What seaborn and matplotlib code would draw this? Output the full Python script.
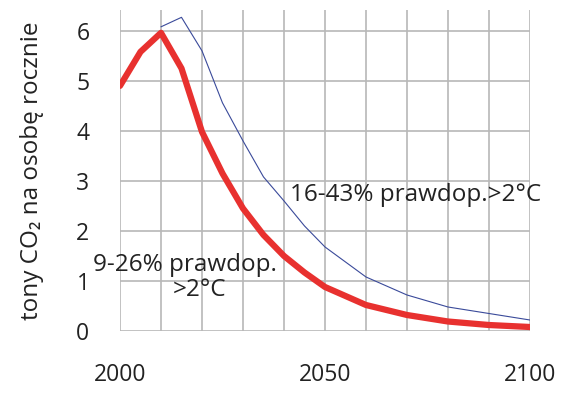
import pandas as pd
import matplotlib.pyplot as plt
import seaborn as sns

years = [2000, 2005, 2010, 2015, 2020, 2025, 2030, 2035, 2040, 2045, 2050, 2060, 2070, 2080, 2090, 2100]
red_vals = [4.9, 5.58, 5.96, 5.25, 3.98, 3.15, 2.45, 1.92, 1.5, 1.17, 0.88, 0.52, 0.32, 0.19, 0.12, 0.08]
blue_years = [2010, 2015, 2020, 2025, 2030, 2035, 2040, 2045, 2050, 2060, 2070, 2080, 2090, 2100]
blue_vals = [6.08, 6.27, 5.6, 4.56, 3.8, 3.08, 2.6, 2.1, 1.68, 1.08, 0.72, 0.48, 0.35, 0.22]

sns.set_theme(style="whitegrid")
plt.rcParams['font.family'] = ['Open Sans', 'DejaVu Sans']

red = pd.DataFrame({"year": years, "val": red_vals})
blue = pd.DataFrame({"year": blue_years, "val": blue_vals})

fig = plt.figure(figsize=(5.7, 3.99), dpi=100)
ax = fig.add_axes([0.2105, 0.1704, 0.7193, 0.805])

sns.lineplot(data=blue, x="year", y="val", color="#3a4a9a", linewidth=0.8, ax=ax)
sns.lineplot(data=red, x="year", y="val", color="#e8312f", linewidth=4.5, ax=ax)

ax.set_xlim(2000, 2100)
ax.set_ylim(0, 6.42)
ax.set_xticks(range(2000, 2101, 10))
ax.set_xticklabels([str(y) if y % 50 == 0 else "" for y in range(2000, 2101, 10)])
ax.set_yticks(range(0, 7))
for s in ax.spines.values():
    s.set_visible(False)
ax.grid(True, color="#b8b8b8", linewidth=1.2)
ax.tick_params(axis="both", direction="out", length=9, width=1.2, color="#b8b8b8",
               labelsize=16.5, labelcolor="#222222")
ax.tick_params(axis="x", pad=14)
ax.tick_params(axis="y", pad=13)
ax.set_xlabel("")
ax.set_ylabel("tony CO₂ na osobę rocznie", fontsize=17.5, color="#222222", labelpad=23)

ax.text(2041.5, 2.72, "16-43% prawdop.>2°C", fontsize=17.5, color="#222222", va="center", ha="left")
ax.text(1993.4, 1.32, "9-26% prawdop.", fontsize=17.5, color="#222222", va="center", ha="left")
ax.text(2012.9, 0.82, ">2°C", fontsize=17.5, color="#222222", va="center", ha="left")

fig.savefig("out.png", dpi=100)
